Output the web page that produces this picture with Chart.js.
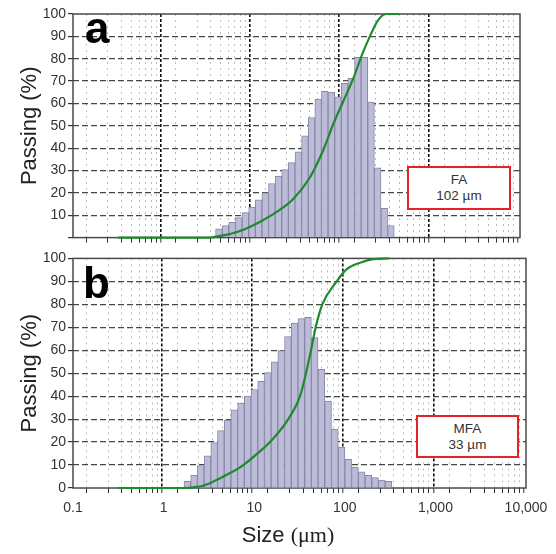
<!DOCTYPE html>
<html lang="en">
<head>
  <meta charset="UTF-8" />
  <title>Particle size distribution - FA and MFA</title>
  <script src="https://cdn.jsdelivr.net/npm/chart.js"></script>
  <style>
    body {
      margin: 0;
      background: #fff;
      font-family: "Liberation Sans", Arial, sans-serif;
    }
    #wrap {
      position: relative;
      width: 556px;
      height: 554px;
      overflow: hidden;
    }
    canvas {
      position: absolute;
      left: 0;
    }
    #chartA { top: 0; }
    #chartB { top: 248px; }

    .panel-letter {
      position: absolute;
      font-weight: bold;
      font-size: 44px;
      line-height: 1;
      color: #000;
    }
    .sample-box {
      position: absolute;
      box-sizing: border-box;
      border: 2px solid #e2232a;
      background: #fff;
      color: #333;
      font-size: 13.5px;
      line-height: 16px;
      text-align: center;
      padding-top: 4px;
    }
    #xTitle {
      position: absolute;
      top: 522px;
      left: 188px;
      width: 200px;
      text-align: center;
      font-size: 22px;
      color: #222;
    }
    #xTitle span { font-family: "Liberation Serif", "Times New Roman", serif; }
  </style>
</head>
<body>
  <div id="wrap">
    <canvas id="chartA" width="556" height="248"></canvas>
    <canvas id="chartB" width="556" height="306"></canvas>

    <div class="panel-letter" style="left:85px; top:6px;">a</div>
    <div class="panel-letter" style="left:83px; top:261px;">b</div>

    <div class="sample-box" style="left:407px; top:166px; width:104px; height:44px;">FA<br>102 µm</div>
    <div class="sample-box" style="left:416px; top:415px; width:103px; height:43px;">MFA<br>33 µm</div>

    <div id="xTitle">Size <span>(μm)</span></div>
  </div>

  <script>
    // bin centres (µm), shared by both histograms
    const binSizes = [1.828, 2.168, 2.570, 3.048, 3.614, 4.285, 5.082, 6.026, 7.145, 8.472,
                      10.05, 11.91, 14.13, 16.75, 19.86, 23.55, 27.93, 33.11, 39.26, 46.56,
                      55.21, 65.46, 77.62, 92.04, 109.1, 129.4, 153.5, 182.0, 215.8, 255.9,
                      303.4, 359.7];

    // histogram heights
    const faFreq = [null, null, null, null, null, 3.9, 5.4, 6.8, 8.9, 11.2,
                    13.7, 16.9, 20.0, 24.2, 27.5, 30.4, 33.5, 38.4, 45.5, 53.7,
                    62.0, 65.4, 65.1, 63.0, 69.0, 71.2, 80.6, 80.6, 60.6, 31.2,
                    13.1, 5.4];
    const mfaFreq = [2.9, 5.5, 9.8, 14.0, 19.8, 25.0, 29.6, 34.0, 37.0, 40.0,
                     42.9, 46.5, 50.3, 54.9, 59.8, 65.9, 71.8, 73.8, 74.3, 65.5,
                     51.7, 37.9, 25.7, 17.8, 12.5, 9.1, 7.0, 5.5, 4.5, 3.5,
                     2.9, null];

    // cumulative passing curves
    const faCumSize = [0.321, 3.40, 4.05, 5.70, 8.04, 12.4, 19.0, 29.1, 44.8, 63.1,
                       81.6, 105.5, 136.5, 169.4, 209.9, 260.0, 322.9, 444];
    const faCumPass = [0, 0, 0.5, 1.6, 3.5, 7.1, 11.5, 17.3, 27, 39.2,
                       50.8, 61, 71.2, 81.4, 90.1, 97.4, 100, 100];
    const mfaCumSize = [0.316, 1.65, 2.13, 2.72, 3.54, 5.41, 7.58, 10.47, 14.94, 23.79,
                        32.03, 37.29, 42.36, 47.73, 56.45, 81.4, 105, 147.2, 198.2, 309.9];
    const mfaCumPass = [0, 0, 0.3, 1.0, 2.8, 6.5, 10, 14.5, 20, 30,
                        40, 50, 60, 70, 80, 90, 95.3, 98.1, 99.6, 100];

    const decades = [0.1, 1, 10, 100, 1000, 10000];
    const decadeLabels = ['0.1', '1', '10', '100', '1,000', '10,000'];
    const yTicks = [0, 10, 20, 30, 40, 50, 60, 70, 80, 90, 100];

    const frame = {
      id: 'frame',
      beforeDatasetsDraw(chart) {
        const { ctx, chartArea: a } = chart;
        ctx.save();
        ctx.strokeStyle = '#4a4a4a';
        ctx.lineWidth = 1.5;
        ctx.strokeRect(a.left, a.top, a.right - a.left, a.bottom - a.top);
        ctx.restore();
      }
    };

    function logTicks(scale) {
      const t = [];
      decades.forEach((d, i) => {
        t.push({ value: d, major: true });
        if (i < decades.length - 1) {
          for (let m = 2; m <= 9; m++) t.push({ value: +(d * m).toPrecision(3), major: false });
        }
      });
      scale.ticks = t;
    }

    function isEdge(v) { return v === decades[0] || v === decades[decades.length - 1]; }

    function makeChart(id, freq, cumSize, cumPass, opts) {
      const bars = [];
      binSizes.forEach((s, i) => { if (freq[i] !== null) bars.push({ x: s, y: freq[i] }); });
      const curve = cumSize.map((s, i) => ({ x: s, y: cumPass[i] }));

      return new Chart(document.getElementById(id), {
        type: 'bar',
        data: {
          datasets: [
            {
              type: 'line',
              data: curve,
              borderColor: '#1f8a2c',
              borderWidth: 2.2,
              pointRadius: 0,
              cubicInterpolationMode: 'monotone',
              fill: false,
              clip: 4
            },
            {
              type: 'bar',
              data: bars,
              backgroundColor: '#bcbcd9',
              borderColor: '#8787a8',
              borderWidth: 1,
              barThickness: 'flex',
              categoryPercentage: 1,
              barPercentage: 1
            }
          ]
        },
        options: {
          responsive: false,
          animation: false,
          layout: { padding: opts.padding },
          plugins: { legend: { display: false }, tooltip: { enabled: false } },
          scales: {
            x: {
              type: 'logarithmic',
              min: 0.1,
              max: 10000,
              afterBuildTicks: logTicks,
              afterFit: s => { s.height = opts.xHeight; },
              grid: {
                color: c => (c.tick && isEdge(c.tick.value)) ? 'rgba(0,0,0,0)' : (c.tick && c.tick.major ? '#111' : '#bcbcbc'),
                lineWidth: c => (c.tick && c.tick.major) ? 1.6 : 1,
                tickColor: '#333',
                tickLength: 5,
                tickWidth: 1
              },
              border: {
                display: false,
                dash: c => c.type === 'tick' ? (c.tick.major ? [3, 2] : [2, 4]) : []
              },
              ticks: {
                display: opts.showX,
                autoSkip: false,
                maxRotation: 0,
                padding: 7,
                color: '#333',
                font: { family: '"Liberation Sans", Arial, sans-serif', size: 14 },
                callback: v => {
                  const i = decades.indexOf(v);
                  return i >= 0 ? decadeLabels[i] : '';
                }
              }
            },
            y: {
              min: 0,
              max: 100,
              afterBuildTicks: s => { s.ticks = yTicks.map(v => ({ value: v })); },
              afterFit: s => { s.width = 73; },
              grid: {
                color: c => (c.tick && (c.tick.value === 0 || c.tick.value === 100)) ? 'rgba(0,0,0,0)' : '#3f4c3f',
                lineWidth: 1.2,
                tickColor: '#333',
                tickLength: 5
              },
              border: {
                display: false,
                dash: c => c.type === 'tick' ? [6, 3] : []
              },
              ticks: {
                padding: 2,
                color: '#333',
                font: { family: '"Liberation Sans", Arial, sans-serif', size: 14 },
                callback: v => (opts.hideZero && v === 0) ? '' : v
              },
              title: {
                display: true,
                text: 'Passing (%)',
                color: '#222',
                padding: { top: 17 },
                font: { family: '"Liberation Sans", Arial, sans-serif', size: 22 }
              }
            }
          }
        },
        plugins: [frame]
      });
    }

    makeChart('chartA', faFreq, faCumSize, faCumPass,
      { padding: { top: 14, right: 36, bottom: 0, left: 0 }, xHeight: 5, showX: false, hideZero: true });
    makeChart('chartB', mfaFreq, mfaCumSize, mfaCumPass,
      { padding: { top: 8, right: 30, bottom: 0, left: 0 }, xHeight: 66, showX: true, hideZero: false });
  </script>
</body>
</html>
